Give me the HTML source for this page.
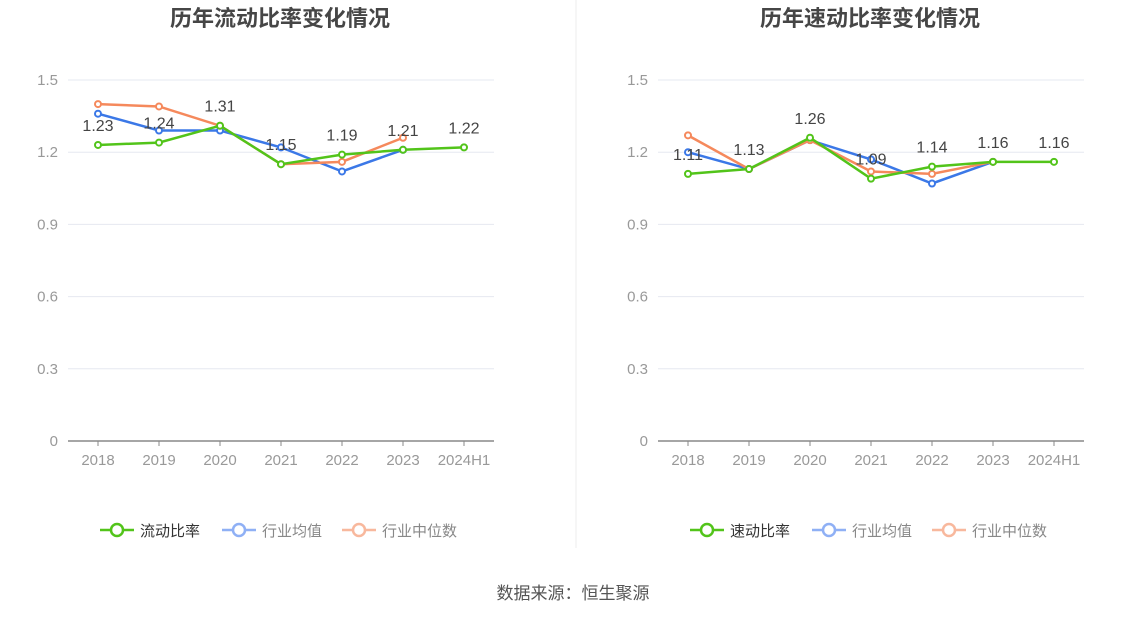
<!DOCTYPE html>
<html><head><meta charset="utf-8">
<style>
body{margin:0;background:#fff;width:1147px;height:619px;overflow:hidden;font-family:"Liberation Sans","Noto Sans CJK SC",sans-serif;}
svg{position:absolute;left:0;top:0}
</style></head>
<body>
<svg id="chart" width="1147" height="619" xmlns="http://www.w3.org/2000/svg" font-family="Liberation Sans, Noto Sans CJK SC, sans-serif"></svg>
<script>
const categories=["2018","2019","2020","2021","2022","2023","2024H1"];
const yTicks=[0,0.3,0.6,0.9,1.2,1.5];
const leftMain=[1.23,1.24,1.31,1.15,1.19,1.21,1.22];
const leftAvg=[1.36,1.29,1.29,1.22,1.12,1.21,null];
const leftMed=[1.40,1.39,1.31,1.15,1.16,1.26,null];
const rightMain=[1.11,1.13,1.26,1.09,1.14,1.16,1.16];
const rightAvg=[1.20,1.13,1.25,1.17,1.07,1.16,null];
const rightMed=[1.27,1.13,1.25,1.12,1.11,1.16,null];

const svg=document.getElementById('chart');
const NS='http://www.w3.org/2000/svg';
function mk(tag,attrs,parent){const e=document.createElementNS(NS,tag);for(const k in attrs)e.setAttribute(k,attrs[k]);(parent||svg).appendChild(e);return e;}
function txt(x,y,s,attrs,parent){const t=mk('text',Object.assign({x:x,y:y},attrs),parent);t.textContent=s;return t;}

const y0=441,y1=80;
function yS(v){return y0-(v/1.5)*(y1-y0)*-1;}
function yScale(v){return y0-(v/1.5)*(y0-y1);}

function panel(ox,title,mainName,main,avg,med,key){
  const g=mk('g',{});
  
  
  const xStart=ox+68,xEnd=ox+494,step=61,x0=ox+98;
  const xScale=i=>x0+i*step;
  const t=txt(ox+280,26,title,{'text-anchor':'middle','font-size':'22','font-weight':'bold',fill:'#464646'},g);
  
  
  yTicks.forEach(v=>{
    const yy=yScale(v);
    if(v>0){const l=mk('line',{x1:xStart,x2:xEnd,y1:yy,y2:yy,stroke:'#e6e8f0','stroke-width':1},g);
      }
    const tl=txt(ox+58,yy+5,String(v),{'text-anchor':'end','font-size':'15',fill:'#999'},g);
    
  });
  const ax=mk('line',{x1:xStart,x2:xEnd,y1:y0,y2:y0,stroke:'#888','stroke-width':1.5},g);
  
  categories.forEach((c,i)=>{
    const tk=mk('line',{x1:xScale(i),x2:xScale(i),y1:y0,y2:y0+5,stroke:'#888'},g);
    
    const tl=txt(xScale(i),y0+24,c,{'text-anchor':'middle','font-size':'15',fill:'#999'},g);
    
  });
  function series(data,color,name){
    const pts=[];data.forEach((v,i)=>{if(v!=null)pts.push([xScale(i),yScale(v)]);});
    const p=mk('polyline',{points:pts.map(p=>p.join(',')).join(' '),fill:'none',stroke:color,'stroke-width':2.5},g);
    
    pts.forEach(pt=>{const c=mk('circle',{cx:pt[0],cy:pt[1],r:3,fill:'#fff',stroke:color,'stroke-width':2},g);
      });
  }
  series(avg,'#3b78e7','industry-average');
  series(med,'#f5895c','industry-median');
  series(main,'#52c41a',key+'-ratio');
  main.forEach((v,i)=>{const l=txt(xScale(i),yScale(v)-14,v.toFixed(2),{'text-anchor':'middle','font-size':'16',fill:'#444'},g);
    });
  const items=[[mainName,'#52c41a','#333',ox+100],['行业均值','#8fb0f5','#888',ox+222],['行业中位数','#f8b89d','#888',ox+342]];
  items.forEach(it=>{
    const lg=mk('g',{},g);
    
    mk('line',{x1:it[3],x2:it[3]+34,y1:530,y2:530,stroke:it[1],'stroke-width':2.5},lg);
    mk('circle',{cx:it[3]+17,cy:530,r:6,fill:'#fff',stroke:it[1],'stroke-width':2.5},lg);
    txt(it[3]+40,536,it[0],{'font-size':'15',fill:it[2]},lg);
  });
}
panel(0,'历年流动比率变化情况','流动比率',leftMain,leftAvg,leftMed,'current');
panel(590,'历年速动比率变化情况','速动比率',rightMain,rightAvg,rightMed,'quick');
const d=mk('line',{x1:576,x2:576,y1:0,y2:548,stroke:'#eee','stroke-width':1});

const s=txt(573,599,'数据来源：恒生聚源',{'text-anchor':'middle','font-size':'17',fill:'#555'});

</script>
</body></html>
